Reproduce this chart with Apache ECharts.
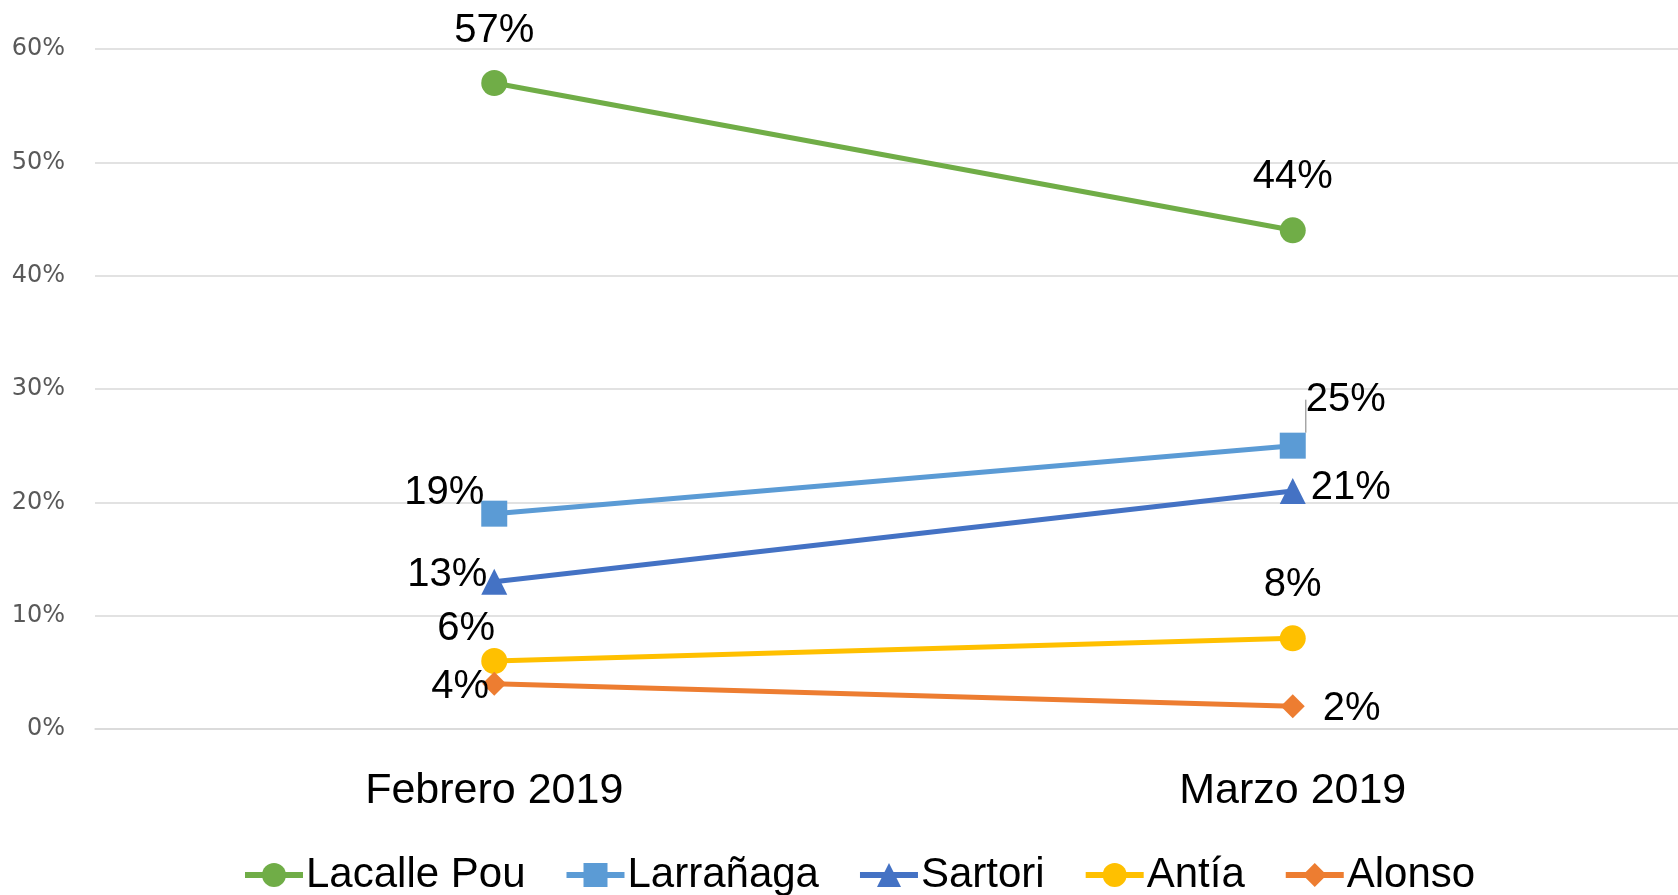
<!DOCTYPE html>
<html>
<head>
<meta charset="utf-8">
<script src="https://cdn.jsdelivr.net/npm/echarts@6/dist/echarts.min.js"></script>
<style>html,body{margin:0;padding:0;background:#fff}#c{width:1678px;height:895px}</style>
</head>
<body>
<div id="c"></div>
<script>
const categories = ['Febrero 2019', 'Marzo 2019'];
const seriesNames = ['Lacalle Pou', 'Larrañaga', 'Sartori', 'Antía', 'Alonso'];
const lacallePou = [57, 44];
const larranaga = [19, 25];
const sartori = [13, 21];
const antia = [6, 8];
const alonso = [4, 2];
const yTicks = [0, 10, 20, 30, 40, 50, 60];

const values = [lacallePou, larranaga, sartori, antia, alonso];
const colors = ['#70AD47', '#5B9BD5', '#4472C4', '#FFC000', '#ED7D31'];
const symbols = ['circle', 'rect', 'triangle', 'circle', 'diamond'];
const symbolSizes = [26, 26, 26, 26, 24];
// label centre shifts relative to the point (style only)
const labelShifts = [
  [[0, -52], [0, -53]],
  [[-50, -21], [53, -46]],
  [[-47, -7], [58, -3]],
  [[-28, -32], [0, -53]],
  [[-34, 3], [59, 3]]
];
const leaderLabels = [[1, 1]];

const FONT = 'Liberation Sans, Arial, sans-serif';
const chart = echarts.init(document.getElementById('c'));
const series = values.map((vals, si) => ({
  name: seriesNames[si],
  type: 'line',
  data: vals.map((v, di) => {
    const item = { value: v };
    if (leaderLabels.some(l => l[0] === si && l[1] === di)) {
      item.labelLine = { show: true, lineStyle: { color: '#a6a6a6', width: 1.5 } };
    }
    return item;
  }),
  symbol: symbols[si],
  symbolSize: symbolSizes[si],
  showAllSymbol: true,
  itemStyle: { color: colors[si] },
  lineStyle: { color: colors[si], width: 5 },
  label: {
    show: true,
    position: 'inside',
    formatter: p => p.value + '%',
    color: '#000',
    fontFamily: FONT,
    fontSize: 40,
    align: 'center',
    verticalAlign: 'middle'
  },
  labelLine: { show: false },
  emphasis: { disabled: true },
  animation: false
}));

chart.setOption({
  animation: false,
  grid: { left: 95, top: 49, width: 1597, bottom: 166, containLabel: false, outerBoundsMode: 'none' },
  legend: {
    data: seriesNames,
    top: 849,
    left: 237,
    itemWidth: 58,
    itemHeight: 30,
    itemGap: 38,
    lineStyle: { width: 6 },
    textStyle: { fontFamily: FONT, fontSize: 42, color: '#000', padding: [0, 0, 0, -2] },
    selectedMode: false
  },
  xAxis: {
    type: 'category',
    data: categories,
    boundaryGap: true,
    axisLine: { show: true, lineStyle: { color: '#d9d9d9', width: 1.5 } },
    axisTick: { show: false },
    axisLabel: { fontFamily: FONT, fontSize: 43, color: '#000', margin: 41 }
  },
  yAxis: {
    type: 'value',
    min: 0,
    max: 60,
    interval: 10,
    axisLine: { show: false },
    axisTick: { show: false },
    splitLine: { lineStyle: { color: '#d9d9d9', width: 1.5 } },
    axisLabel: {
      fontFamily: 'DejaVu Sans, sans-serif',
      fontSize: 24,
      color: '#595959',
      margin: 30,
      formatter: v => yTicks.includes(v) ? v + '%' : ''
    }
  },
  labelLayout: function (params) {
    const s = labelShifts[params.seriesIndex] && labelShifts[params.seriesIndex][params.dataIndex];
    if (s) return { dx: s[0], dy: s[1] };
  },
  series: series
});
</script>
</body>
</html>
